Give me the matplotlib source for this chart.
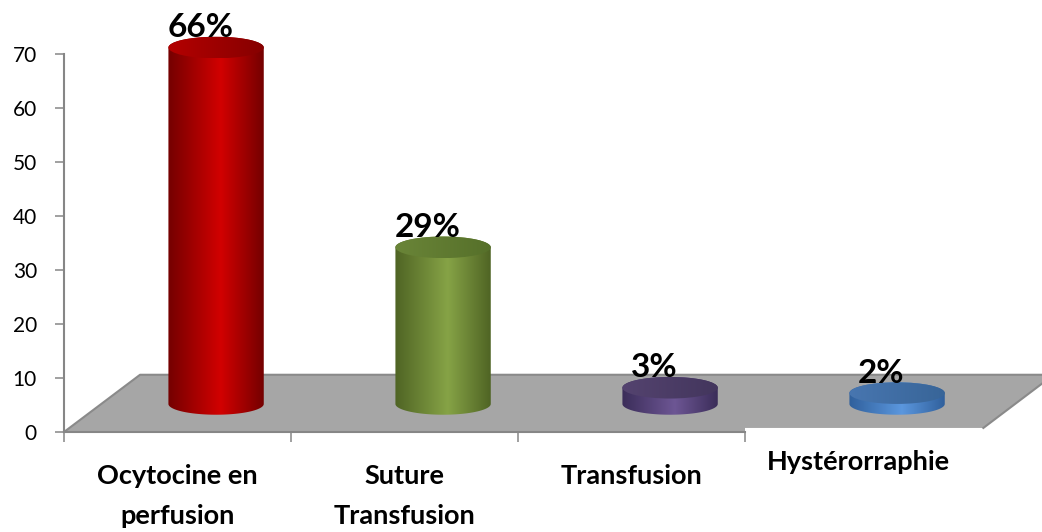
import numpy as np
import matplotlib.pyplot as plt
from matplotlib.colors import LinearSegmentedColormap
from matplotlib.patches import Ellipse, Polygon, PathPatch
from matplotlib.path import Path

categories = ["Ocytocine en\nperfusion", "Suture\nTransfusion", "Transfusion", "Hystérorraphie"]
percentages = [66, 29, 3, 2]
yticks = [0, 10, 20, 30, 40, 50, 60, 70]

# shading per cylinder: side edge, side highlight, top face light, top face dark
palette = [
    ("#740000", "#d20000", "#b40000", "#860000"),
    ("#4f6424", "#86a346", "#6a8538", "#56702a"),
    ("#3b2d59", "#6d5694", "#54436f", "#43365d"),
    ("#30609c", "#5b97de", "#4876b0", "#386598"),
]

plt.rcParams['font.family'] = ['Lato', 'DejaVu Sans']

fig = plt.figure(figsize=(10.42, 5.32), dpi=100)
ax = fig.add_axes([64 / 1042, 100 / 532, 978 / 1042, 432 / 532])

depth_x, depth_y = 0.17, 5.2   # how far the bars sit back on the floor
half_w, half_h = 0.21, 2.0     # cylinder radius and ellipse half-height
floor_back = 10.6

# grey floor
floor = Polygon([(-0.5, 0), (2.5, 0), (2.5, 0.75), (3.55, 0.75),
                 (3.86, floor_back), (-0.165, floor_back)],
                closed=True, facecolor="#a6a6a6", edgecolor="none", zorder=1)
ax.add_patch(floor)
ax.plot([-0.5, -0.165, 3.86], [0, floor_back, floor_back], color="#8a8a8a", lw=1.5, zorder=1.5)
ax.plot([3.55, 3.86], [0.75, floor_back], color="#8a8a8a", lw=1.5, zorder=1.5)


def cylinder(xc, value, colors, z):
    edge, light, top_light, top_dark = colors
    yb = depth_y
    yt = depth_y + value
    t = np.linspace(np.pi, 2 * np.pi, 80)
    lower = np.column_stack([xc + half_w * np.cos(t), yb + half_h * np.sin(t)])
    t2 = np.linspace(0, np.pi, 80)
    upper = np.column_stack([xc + half_w * np.cos(t2), yt + half_h * np.sin(t2)])
    verts = np.vstack([lower, upper, lower[:1]])
    codes = [Path.MOVETO] + [Path.LINETO] * (len(verts) - 2) + [Path.CLOSEPOLY]
    body = PathPatch(Path(verts, codes), facecolor="none", edgecolor="none", zorder=z)
    ax.add_patch(body)
    side = LinearSegmentedColormap.from_list("side", [(0, edge), (0.55, light), (1, edge)])
    grad = np.linspace(0, 1, 256)[np.newaxis, :]
    im = ax.imshow(grad, cmap=side, aspect="auto", interpolation="bilinear",
                   extent=(xc - half_w, xc + half_w, yb - half_h, yt + half_h), zorder=z)
    im.set_clip_path(body)

    top = Ellipse((xc, yt), 2 * half_w, 2 * half_h, facecolor="none", edgecolor="none", zorder=z + 0.1)
    ax.add_patch(top)
    cap = LinearSegmentedColormap.from_list("cap", [top_light, top_dark])
    im2 = ax.imshow(grad, cmap=cap, aspect="auto", interpolation="bilinear",
                    extent=(xc - half_w, xc + half_w, yt - half_h, yt + half_h), zorder=z + 0.1)
    im2.set_clip_path(top)
    return yt


for i, (v, cols) in enumerate(zip(percentages, palette)):
    xc = i + depth_x
    yt = cylinder(xc, v, cols, 3 + i)
    ax.text(xc - 0.07, yt + 3.7, f"{v}%", ha="center", va="center",
            fontsize=24, fontweight="bold", zorder=10)

# category labels under the axis, one text per line (baseline in axes fraction)
first_baseline = [-0.1204, -0.1204, -0.1204, -0.088]
line_step = 0.0926
for i, lab in enumerate(categories):
    for k, line in enumerate(lab.split("\n")):
        ax.text(i, first_baseline[i] - k * line_step, line, transform=ax.get_xaxis_transform(),
                ha="center", va="baseline", fontsize=19.5, fontweight="bold")

ax.set_xlim(-0.5, -0.5 + 978 / 227)
ax.set_ylim(0, 80)

for s in ["top", "right"]:
    ax.spines[s].set_visible(False)
for s in ["left", "bottom"]:
    ax.spines[s].set_color("#868686")
    ax.spines[s].set_linewidth(1.5)
    ax.spines[s].set_zorder(2)
ax.spines["left"].set_bounds(0, 70)
ax.spines["bottom"].set_bounds(-0.5, 2.5)

ax.set_yticks(yticks)
ax.set_yticklabels([str(t) for t in yticks], fontsize=15)
ax.set_xticks([-0.5, 0.5, 1.5, 2.5])
ax.set_xticklabels([])
ax.tick_params(axis="y", length=6.5, width=1.1, color="#868686", pad=13)
ax.tick_params(axis="x", length=7, width=1.1, color="#868686")

fig.savefig("out.png", dpi=100)
